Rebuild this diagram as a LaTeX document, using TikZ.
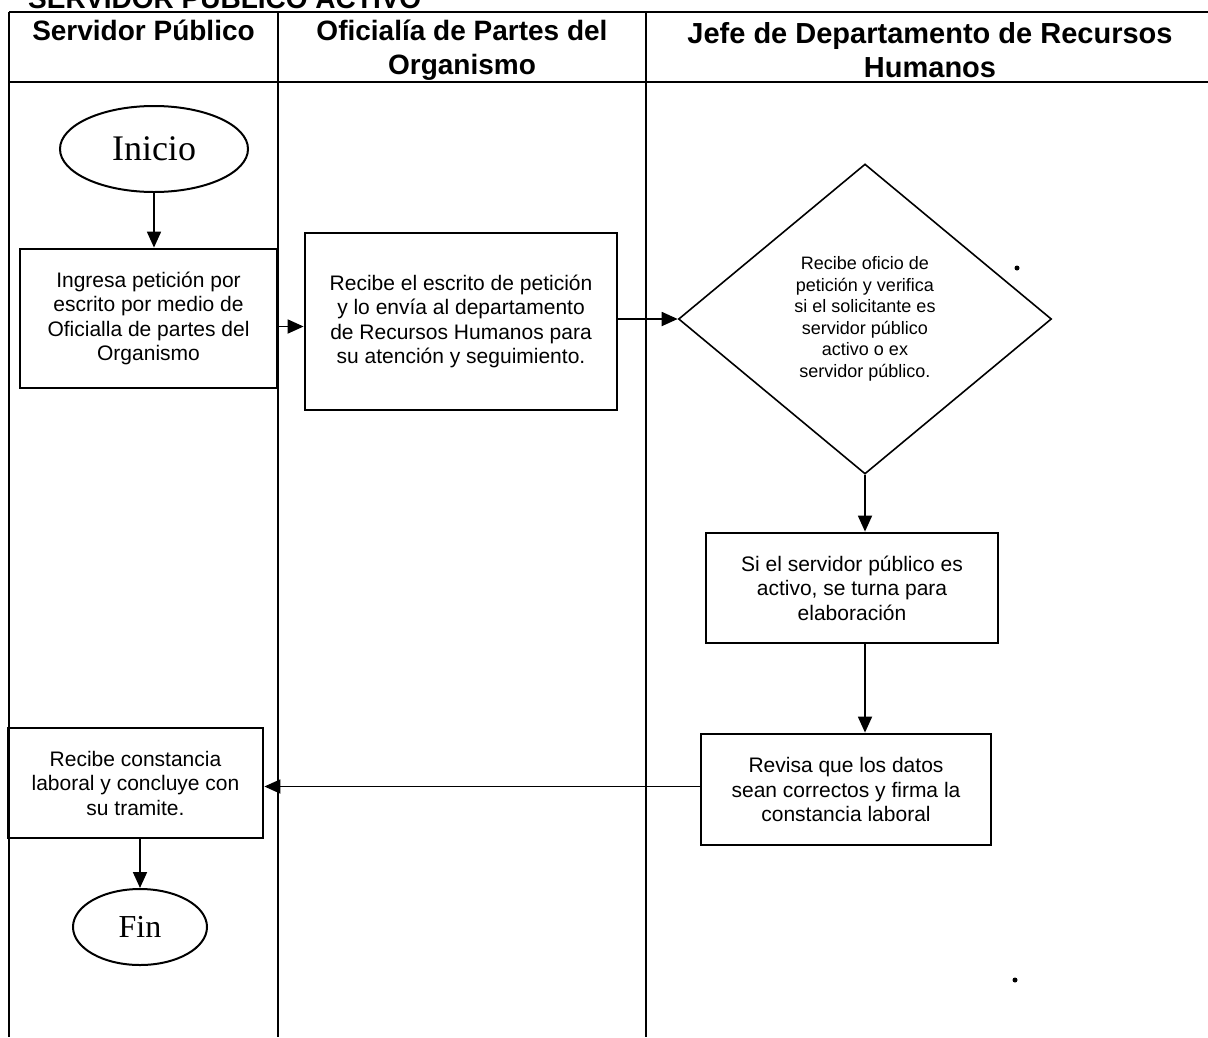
\documentclass[tikz,border=0pt]{standalone}
\usepackage{fontspec}
\setmainfont{Liberation Sans}
\newfontfamily\serifface{Liberation Serif}
\usetikzlibrary{shapes.geometric,arrows.meta}
\begin{document}
\begin{tikzpicture}[x=1pt,y=-1pt,
  lane/.style={line width=1.7pt},
  box/.style={draw,line width=2.8pt,align=center,inner sep=0pt,font=\fontsize{21}{24.5}\selectfont},
  term/.style={draw,ellipse,line width=2pt,inner sep=0pt},
  dec/.style={draw,diamond,line width=1.6pt,align=center,inner sep=0pt,font=\fontsize{18}{21.5}\selectfont},
  flow/.style={line width=1.8pt,-{Triangle[length=16pt,width=14pt]}},
  hdr/.style={align=center,inner sep=0pt,font=\fontsize{28}{34}\selectfont\bfseries}]
\useasboundingbox (0,0) rectangle (1208,1037);
\clip (0,0) rectangle (1208,1037);
% title (cut off at the top, as in the scan)
\node[anchor=base west,inner sep=0pt,font=\fontsize{28}{34}\selectfont\bfseries] (title) at (28,8) {SERVIDOR PÚBLICO ACTIVO};
% lanes
\draw[lane] (9,12) -- (1208,12);
\draw[lane] (9,82) -- (1208,82);
\draw[lane] (9,12) -- (9,1037);
\draw[lane] (278,12) -- (278,1037);
\draw[lane] (646,12) -- (646,1037);
% headers
\node[hdr,anchor=base] (h1) at (143.5,40) {Servidor Público};
\node[hdr,anchor=north] (h2) at (462,20) {Oficialía de Partes del\\Organismo};
\node[hdr,anchor=north,font=\fontsize{29}{34}\selectfont\bfseries] (h3) at (930,22) {Jefe de Departamento de Recursos\\Humanos};
% nodes
\node[term,minimum width=188pt,minimum height=86pt,font=\serifface\fontsize{36}{40}\selectfont] (ini) at (154,149) {Inicio};
\node[box,minimum width=257pt,minimum height=139pt] (b1) at (148.5,318.5) {Ingresa petición por\\escrito por medio de\\Oficialla de partes del\\Organismo};
\node[box,minimum width=312pt,minimum height=177pt] (b2) at (461,321.5) {Recibe el escrito de petición\\y lo envía al departamento\\de Recursos Humanos para\\su atención y seguimiento.};
\node[dec,minimum width=373pt,minimum height=310pt] (d) at (865,319) {Recibe oficio de\\petición y verifica\\si el solicitante es\\servidor público\\activo o ex\\servidor público.};
\node[box,minimum width=292pt,minimum height=110pt] (b3) at (852,588) {Si el servidor público es\\activo, se turna para\\elaboración};
\node[box,minimum width=290pt,minimum height=111pt] (b4) at (846,789.5) {Revisa que los datos\\sean correctos y firma la\\constancia laboral};
\node[box,minimum width=255pt,minimum height=110pt] (b5) at (135.5,783) {Recibe constancia\\laboral y concluye con\\su tramite.};
\node[term,minimum width=134pt,minimum height=76pt,font=\serifface\fontsize{32}{36}\selectfont] (fin) at (140,927) {Fin};
% connectors
\draw[flow] (ini.south) -- (ini.south |- b1.north);
\draw[flow] ([yshift=-8pt]b1.east) -- ([yshift=-8pt]b1.east -| b2.west);
\draw[flow] (b2.east |- d.west) -- (d.west);
\draw[flow] (d.south) -- (d.south |- b3.north);
\draw[flow] (b3.south -| d.south) -- (d.south |- b4.north);
\draw[flow] ([yshift=3pt]b4.west) -- ([yshift=3pt]b4.west -| b5.east);
\draw[flow] (fin.north |- b5.south) -- (fin.north);
% stray dots
\fill (1017,268) circle (2.5pt);
\fill (1015,980) circle (2.5pt);
\end{tikzpicture}
\end{document}
